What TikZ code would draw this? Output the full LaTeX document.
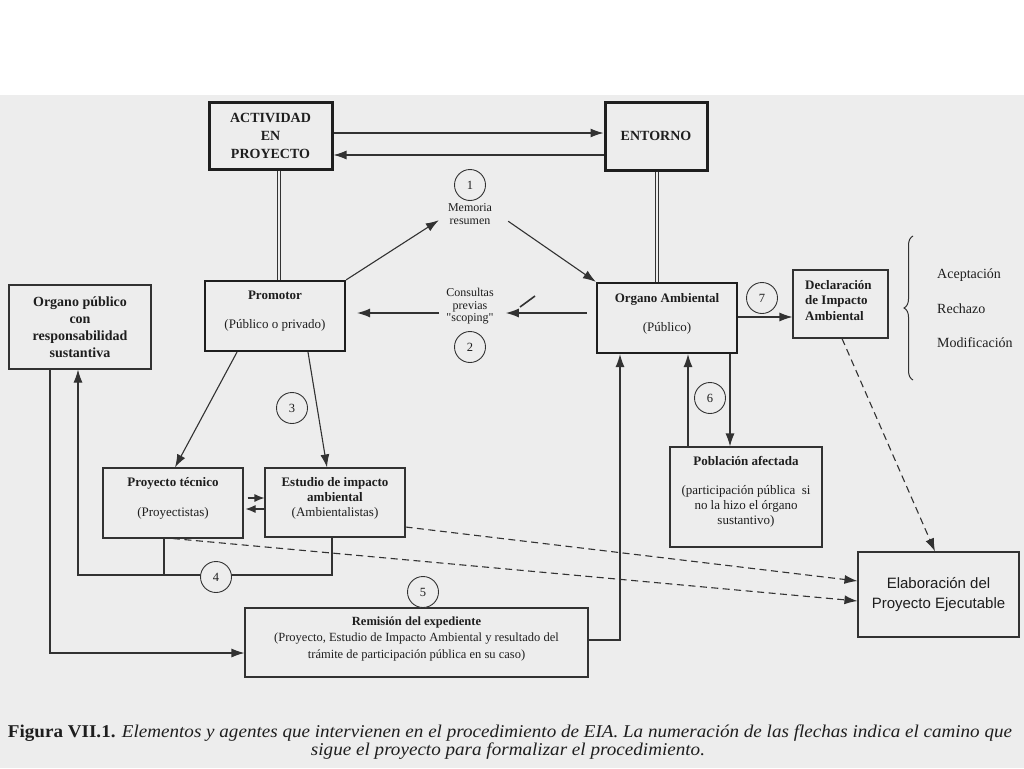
\documentclass[tikz,border=0pt]{standalone}
\usepackage{fontspec}
\usepackage{graphicx}
\setmainfont{Liberation Serif}
\newfontfamily\sansf{Liberation Sans}
\newfontfamily\rawserif[Ligatures=TeXOff]{Liberation Serif}
\usetikzlibrary{arrows.meta,decorations.pathreplacing}
\definecolor{pagebg}{RGB}{237,237,237}
\definecolor{ink}{RGB}{50,50,50}
\definecolor{dark}{RGB}{30,30,30}
\newcommand\myfs[2]{\fontsize{#1}{#2}\selectfont}
\begin{document}
\begin{tikzpicture}[x=1pt,y=-1pt,
  box/.style={draw=ink,line width=1.1pt,rectangle,inner sep=0pt},
  heavy/.style={draw=dark,line width=3pt,rectangle,inner sep=0pt},
  medium/.style={draw=dark,line width=2.2pt,rectangle,inner sep=0pt},
  txt/.style={inner sep=0pt,align=center,text=dark},
  num/.style={circle,draw=ink,line width=0.9pt,fill=pagebg,minimum size=31pt,inner sep=0pt,font=\myfs{12.5}{14},text=dark},
  arr/.style={draw=ink,line width=1.1pt,-{Latex[length=13pt,width=9pt]}},
  sarr/.style={draw=ink,line width=1.1pt,-{Latex[length=10pt,width=8pt]}},
  ln/.style={draw=ink,line width=1.1pt},
  dbl/.style={draw=ink,line width=0.9pt,double=pagebg,double distance=2.4pt},
  dsh/.style={arr,dash pattern=on 7pt off 4.5pt}
]
\useasboundingbox (0,0) rectangle (1024,768);
\fill[white] (0,0) rectangle (1024,768);
\fill[pagebg] (0,95) rectangle (1024,768);

% boxes
\node[heavy,minimum width=123pt,minimum height=67pt,txt,font=\myfs{14}{18}\bfseries] (act) at (270.5,135.5) {ACTIVIDAD\\EN\\PROYECTO};
\node[heavy,minimum width=102pt,minimum height=68pt,txt,font=\myfs{14}{18}\bfseries] (ent) at (656,136) {ENTORNO};

\node[medium,minimum width=140pt,minimum height=70pt] (prom) at (275,316) {};
\node[txt,font=\myfs{13}{16}] (promt) at (275,311.5) {\textbf{Promotor}\\[13pt](Público o privado)};

\node[medium,minimum width=140pt,minimum height=70pt] (oamb) at (667,318) {};
\node[txt,font=\myfs{13}{16}] (oambt) at (667,313.5) {\textbf{Organo Ambiental}\\[13pt](Público)};

\node[box,minimum width=142pt,minimum height=84pt,txt,font=\myfs{14}{17}\bfseries] (ops) at (80,327) {Organo público\\con\\responsabilidad\\sustantiva};

\node[box,minimum width=95pt,minimum height=68pt] (decl) at (840.5,304) {};
\node[txt,align=left,anchor=west,font=\myfs{13}{15.5}\bfseries] (declt) at (805,300.5) {Declaración\\de Impacto\\Ambiental};

\node[box,minimum width=140pt,minimum height=70pt] (pt) at (173,503) {};
\node[txt,font=\myfs{13}{16}] (ptt) at (173,498) {\textbf{Proyecto técnico}\\[14pt](Proyectistas)};

\node[box,minimum width=140pt,minimum height=69pt] (eia) at (335,502.5) {};
\node[txt,font=\myfs{13}{15}] (eiat) at (335,498) {\textbf{Estudio de impacto}\\\textbf{ambiental}\\(Ambientalistas)};

\node[box,minimum width=152pt,minimum height=100pt] (pob) at (746,497) {};
\node[txt,font=\myfs{13}{15}] (pobt) at (746,491.5) {\textbf{Población afectada}\\[14pt](participación pública\ \ si\\no la hizo el órgano\\sustantivo)};

\node[box,minimum width=343pt,minimum height=69pt] (rem) at (416.5,642.5) {};
\node[txt,font=\myfs{12.5}{16.5}] (remt) at (416.5,638.5) {\textbf{Remisión del expediente}\\(Proyecto, Estudio de Impacto Ambiental y resultado del\\trámite de participación pública en su caso)};

\node[box,minimum width=161pt,minimum height=85pt,txt,font={\sansf\myfs{15}{20}}] (elab) at (938.5,594.5) {Elaboración del\\Proyecto Ejecutable};

% small texts
\node[txt,font=\myfs{12}{13}] (mem) at (470,214.5) {Memoria\\resumen};
\node[txt,font={\rawserif\myfs{12}{12.5}}] (cons) at (470,306.5) {Consultas\\previas\\"scoping"};

% options
\node[txt,anchor=west,font=\myfs{14}{16}] (opa) at (937,275) {Aceptación};
\node[txt,anchor=west,font=\myfs{14}{16}] (opr) at (937,309) {Rechazo};
\node[txt,anchor=west,font=\myfs{14}{16}] (opm) at (937,343) {Modificación};
\draw[draw=ink,line width=1pt,decorate,decoration={brace,amplitude=9pt}] (913,380) -- (913,236);

% connectors
\draw[arr] ([yshift=2.5pt]act.east) -- ([yshift=3pt]ent.west);
\draw[arr] ([yshift=-19pt]ent.west) -- ([yshift=-19.5pt]act.east);
\draw[dbl] ([xshift=8.5pt]act.south) -- ([xshift=8.5pt]act.south |- prom.north);
\draw[dbl] ([xshift=1pt]ent.south) -- ([xshift=1pt]ent.south |- oamb.north);

\draw[arr] (prom.north east) -- ([shift={(-9pt,5pt)}]mem.south west);
\draw[arr] ([shift={(16pt,4pt)}]mem.south east) -- (oamb.north west);
\draw[arr,shorten <=9pt] ([yshift=5pt]oamb.west) -- ([shift={(12pt,-6.5pt)}]cons.east);
\draw[arr,shorten >=11pt] ([shift={(-7pt,-6.5pt)}]cons.west) -- ([yshift=3pt]prom.east);
\draw[ink,line width=1.6pt] (520,307) -- (535,296);

\draw[arr] ([yshift=1pt]oamb.east) -- ([yshift=1pt]oamb.east -| decl.west);

\draw[arr] ([xshift=-38pt]prom.south) -- ([xshift=2pt]pt.north);
\draw[arr] ([xshift=33pt]prom.south) -- ([xshift=-8pt]eia.north);

\draw[sarr] ([shift={(4pt,5pt)}]pt.east) -- ([yshift=4.5pt]eia.west);
\draw[sarr] ([yshift=-6.5pt]eia.west) -- ([shift={(2pt,-6pt)}]pt.east);

\coordinate (j4) at (78,575);
\draw[ln] ([xshift=-9pt]pt.south) -- ([xshift=-9pt]pt.south |- j4);
\draw[arr] ([xshift=-3pt]eia.south) |- (j4) -- ([xshift=-2pt]ops.south);
\draw[arr] ([xshift=-30pt]ops.south) |- ([yshift=-10.5pt]rem.west);
\draw[arr] ([yshift=2.5pt]rem.east) -| ([xshift=-47pt]oamb.south);
\draw[arr] ([xshift=-58pt]pob.north) -- ([xshift=-58pt]pob.north |- oamb.south);
\draw[arr] ([xshift=63pt]oamb.south) -- ([xshift=63pt]oamb.south |- pob.north);

\draw[dsh] ([xshift=1.5pt]decl.south) -- ([xshift=-3.5pt]elab.north);
\draw[dsh] ([yshift=-24.5pt]eia.east) -- ([yshift=13.5pt]elab.west);
\draw[dsh] (pt.south) -- ([yshift=-6.5pt]elab.west);

% numbered circles
\node[num] (c1) at (470,185) {1};
\node[num] (c2) at (470,347) {2};
\node[num] (c3) at (292,408) {3};
\node[num] (c4) at (216,577) {4};
\node[num] (c5) at (423,592) {5};
\node[num] (c6) at (710,398) {6};
\node[num] (c7) at (762,298) {7};

% caption
\node[txt] (cap1) at (510,733) {\resizebox{1004pt}{\height}{\myfs{18}{20}\textbf{Figura VII.1.} \textit{Elementos y agentes que intervienen en el procedimiento de EIA. La numeración de las flechas indica el camino que}}};
\node[txt] (cap2) at (508,751.5) {\resizebox{394pt}{\height}{\myfs{18}{20}\textit{sigue el proyecto para formalizar el procedimiento.}}};
\end{tikzpicture}
\end{document}
